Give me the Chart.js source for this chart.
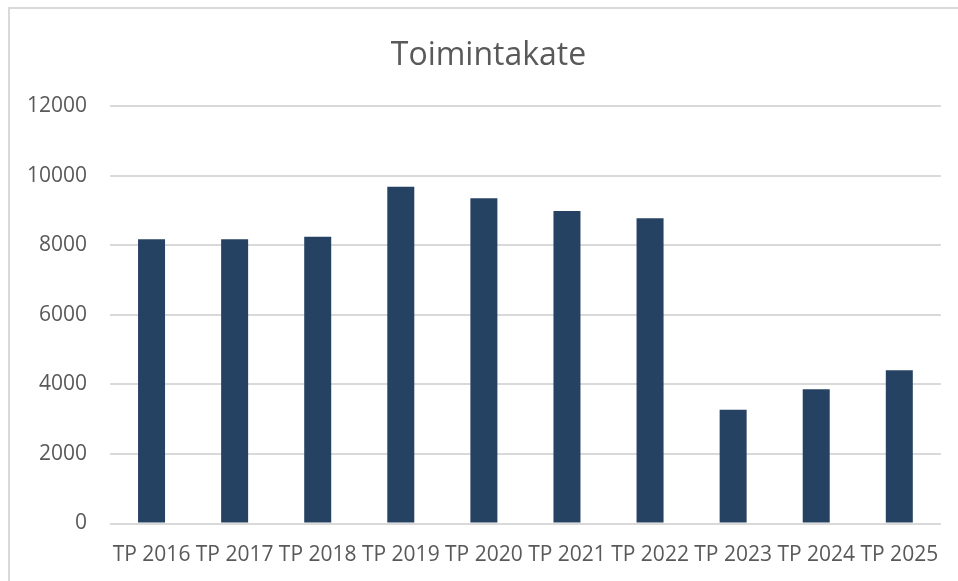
<!DOCTYPE html>
<html>
<head>
<meta charset="utf-8">
<script src="https://cdn.jsdelivr.net/npm/chart.js@4"></script>
<style>
  html, body { margin: 0; padding: 0; background: #fff; }
  #wrap { position: relative; width: 958px; height: 581px; overflow: hidden; }
  #frame { position: absolute; left: 8px; top: 7px; width: 1000px; height: 700px;
           border: 2px solid #d9d9d9; pointer-events: none; }
</style>
</head>
<body>
<div id="wrap">
  <canvas id="chart" width="958" height="581"></canvas>
  <div id="frame"></div>
</div>
<script>
/* ── Data ─────────────────────────────── */
const years  = ['TP 2016','TP 2017','TP 2018','TP 2019','TP 2020','TP 2021','TP 2022','TP 2023','TP 2024','TP 2025'];
const values = [8180, 8180, 8250, 9690, 9360, 8990, 8780, 3270, 3860, 4410];
const yTicks = [0, 2000, 4000, 6000, 8000, 10000, 12000];

const textGray = '#595959';
const gridGray = '#d9d9d9';

// title sits a bit right of the canvas centre in the original
const shiftTitle = {
  id: 'shiftTitle',
  afterLayout: c => { if (c.titleBlock) c.titleBlock.left = 36; },
};

new Chart(document.getElementById('chart'), {
  type: 'bar',
  data: {
    labels: years,
    datasets: [{
      label: 'Toimintakate',
      data: values,
      backgroundColor: '#264263',
      barPercentage: 0.325,
      categoryPercentage: 1,
    }],
  },
  options: {
    responsive: false,
    animation: false,
    layout: { padding: { left: 0, right: 17, top: 0, bottom: 0 } },
    plugins: {
      legend: { display: false },
      tooltip: { enabled: false },
      title: {
        display: true,
        text: 'Toimintakate',
        color: textGray,
        font: { family: 'Open Sans', size: 32, weight: 'normal' },
        padding: { top: 37, bottom: 31 },
      },
    },
    scales: {
      x: {
        grid: { display: false, drawTicks: false },
        border: { display: false },
        ticks: {
          color: textGray, autoSkip: false, maxRotation: 0, minRotation: 0, padding: 19,
          font: { family: 'Open Sans', size: 21 },
        },
        afterFit: s => { s.height = 57.5; },
      },
      y: {
        min: 0, max: 12000,
        afterBuildTicks: s => { s.ticks = yTicks.map(v => ({ value: v })); },
        grid: { color: gridGray, lineWidth: 2, drawTicks: false },
        border: { display: false },
        ticks: {
          color: textGray, padding: 23,
          font: { family: 'Open Sans', size: 21 },
          callback: v => String(v),
        },
        afterFit: s => { s.width = 110; },
      },
    },
  },
  plugins: [shiftTitle],
});
</script>
</body>
</html>
